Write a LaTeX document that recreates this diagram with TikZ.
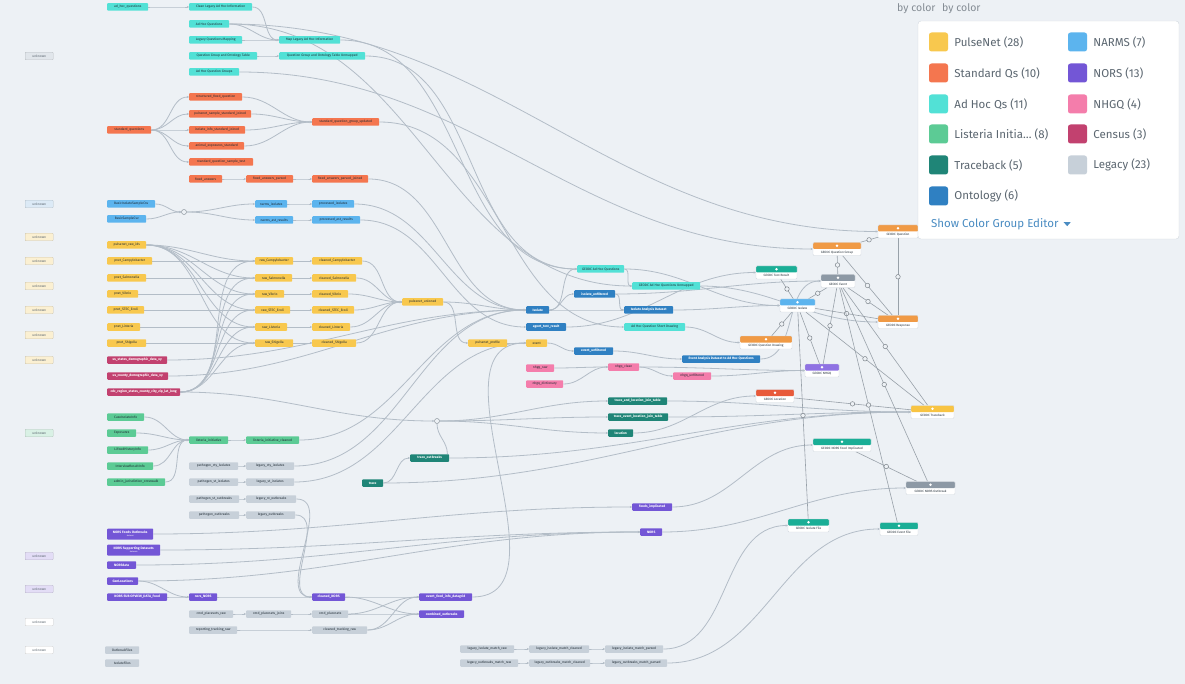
\documentclass[tikz,border=0pt]{standalone}
\usepackage{fontspec}
\setmainfont{Fira Sans}
\usetikzlibrary{arrows.meta,positioning}
\definecolor{bg}{HTML}{EDF1F5}
\definecolor{wire}{HTML}{B3BDC7}
\definecolor{ink}{HTML}{1E2A33}
\definecolor{pulse}{HTML}{F8C84E}
\definecolor{stdq}{HTML}{F4764F}
\definecolor{adhoc}{HTML}{52E1D6}
\definecolor{listi}{HTML}{5CCB95}
\definecolor{trace}{HTML}{1F8577}
\definecolor{onto}{HTML}{2F80C2}
\definecolor{narms}{HTML}{5CB4EE}
\definecolor{nors}{HTML}{7356D6}
\definecolor{nhgq}{HTML}{F47DAB}
\definecolor{census}{HTML}{C2416F}
\definecolor{legacy}{HTML}{C7D0D9}
\definecolor{geoorange}{HTML}{F09A45}
\definecolor{geogray}{HTML}{8D99A5}
\definecolor{geoteal}{HTML}{1AAE96}
\definecolor{geored}{HTML}{E85A3A}
\definecolor{geopurple}{HTML}{8F72E3}
\definecolor{geoyellow}{HTML}{F8C443}
\definecolor{geoline}{HTML}{D3D9DF}
\definecolor{legtxt}{HTML}{5B6670}
\definecolor{linkc}{HTML}{4A8CC2}
\definecolor{unkgray}{HTML}{E1E6EB}
\definecolor{unkblue}{HTML}{DCEAF6}
\definecolor{unkyellow}{HTML}{FBF0D2}
\definecolor{unkgreen}{HTML}{D9F1E5}
\definecolor{unkpurple}{HTML}{E3DDF6}
\definecolor{unkwhite}{HTML}{FFFFFF}
\newcommand{\nodefont}{\fontsize{3.3}{3.7}\selectfont}
\pgfdeclarelayer{back}
\pgfdeclarelayer{edges}
\pgfsetlayers{back,edges,main}

\begin{document}
\begin{tikzpicture}[x=1pt, y=-1pt,
  dset/.style={anchor=west, rounded corners=0.8pt, minimum height=7.5pt, inner sep=0pt, font=\nodefont, text=ink},
  dsetw/.style={dset, text=white, font=\nodefont\bfseries},
  unk/.style={dset, minimum width=28pt, fill=#1, draw=#1!82!black, line width=0.4pt, text=legtxt},
  junc/.style={circle, draw=wire!80!black, fill=bg, line width=0.5pt, inner sep=0pt, minimum size=5pt},
  flow/.style={draw=wire, line width=0.8pt, -{Stealth[length=2.2pt,width=2.2pt]}},
  rel/.style={draw=wire!85!black, line width=0.6pt},
  relmark/.style={circle, draw=wire!70!black, fill=bg, line width=0.5pt, inner sep=0pt, minimum size=4.5pt},
  geo/.style={rounded corners=1pt, fill=white, draw=geoline, line width=0.4pt, minimum height=13pt, inner sep=0pt},
  geolab/.style={font=\fontsize{3.1}{3.5}\selectfont, text=ink, inner sep=0pt},
  swatch/.style={rounded corners=2.5pt, minimum size=19pt, inner sep=0pt},
  legtext/.style={font=\fontsize{11.5}{13}\selectfont, text=legtxt, inner sep=0pt, anchor=west},
]
\useasboundingbox (0,0) rectangle (1185,684);
\begin{pgfonlayer}{back}
\fill[bg] (0,0) rectangle (1185,684);
\end{pgfonlayer}

% unknown sources, left margin
\foreach \y/\col in {56/unkgray, 204/unkblue, 237/unkyellow, 261/unkyellow, 286/unkyellow, 310/unkyellow, 335/unkyellow, 360/unkyellow, 433/unkgreen, 556/unkpurple, 589/unkpurple, 622/unkwhite, 650/unkwhite}
  \node[unk=\col] (unk\y) at (25,\y) {unknown};

% ad hoc questions
\foreach \nm/\x/\y/\w/\txt in {ahq/107/7/41/ad\_hoc\_questions, ahopen/189/7/63/Clean Legacy Ad Hoc Information, ahqs/189/24/40/Ad Hoc Questions, ahlegmap/189/40/53/Legacy Questions Mapping, ahqgot/189/56/68/Question Group and Ontology Table, ahqg/189/72/50/Ad Hoc Question Groups, ahmap/279/40/61/Map Legacy Ad Hoc Information, ahunm/279/56/86/Question Group and Ontology Table Unmapped, ahgeo/577/269/47/GEODC Ad Hoc Questions, ahgeou/632/286/68/GEODC Ad Hoc Questions Unmapped, ahdraw/624/327/61/Ad Hoc Question Short Drawing}
  \node[dset, fill=adhoc, minimum width=\w] (\nm) at (\x,\y) {\txt};

% standard questions
\foreach \nm/\x/\y/\w/\txt in {sq/107/130/44/standard\_questions, sq1/189/97/53/structured\_fixed\_question, sq2/189/114/62/pulsenet\_sample\_standard\_joined, sq3/189/130/56/isolate\_info\_standard\_joined, sq4/189/146/55/animal\_exposures\_standard, sq5/189/162/64/standard\_question\_sample\_test, sq6/189/179/33/fixed\_answers, sq7/246/179/47/fixed\_answers\_parsed, sqg/312/122/67/standard\_question\_group\_updated, sq8/312/179/56/fixed\_answers\_parsed\_joined}
  \node[dset, fill=stdq, minimum width=\w] (\nm) at (\x,\y) {\txt};

% NARMS
\foreach \nm/\x/\y/\w/\txt in {na1/107/204/48/BasicIsolateSampleCsv, na2/107/219/39/BasicSampleCsv, na3/255/204/32/narms\_isolates, na4/255/220/38/narms\_ast\_results, na5/312/204/42/processed\_isolates, na6/312/220/48/processed\_ast\_results}
  \node[dset, fill=narms, minimum width=\w] (\nm) at (\x,\y) {\txt};
\node[junc] (j1) at (184,212) {};

% PulseNet
\node[dset, fill=pulse, minimum width=39] (pn0) at (107,245) {pulsenet\_raw\_ids};
\foreach \s/\g/\y/\wa/\wb/\wc in {C/Campylobacter/261/45/38/50, S/Salmonella/278/39/37/44, V/Vibrio/294/31/29/36, E/STEC\_Ecoli/310/37/35/42, L/Listeria/327/33/32/38, H/Shigella/343/39/38/44}{
  \node[dset, fill=pulse, minimum width=\wa] (pn\s) at (107,\y) {pnet\_\g};
  \node[dset, fill=pulse, minimum width=\wb] (rw\s) at (255,\y) {raw\_\g};
  \node[dset, fill=pulse, minimum width=\wc] (cl\s) at (312,\y) {cleaned\_\g};
}
\node[dset, fill=pulse, minimum width=41] (pnu) at (402,302) {pulsenet\_unioned};
\node[dset, fill=pulse, minimum width=39] (pnp) at (468,343) {pulsenet\_profile};
\node[dset, fill=pulse, minimum width=21] (ev) at (526,343) {event};

% census
\foreach \nm/\y/\w/\txt in {ce1/360/60/us\_states\_demographic\_data\_xy, ce2/376/61/us\_county\_demographic\_data\_xy, ce3/392/73/cdc\_region\_states\_county\_city\_zip\_lat\_long}
  \node[dsetw, fill=census, minimum width=\w] (\nm) at (107,\y) {\txt};

% listeria initiative
\foreach \nm/\x/\y/\w/\txt in {li1/107/417/37/CaseIsolateInfo, li2/107/433/29/Exposures, li3/107/450/41/LiFoodHistoryInfo, li4/107/466/46/InterviewResultInfo, li5/107/482/58/admin\_jurisdiction\_crosswalk, li6/189/440/39/listeria\_initiative, li7/246/440/53/listeria\_initiative\_cleaned}
  \node[dset, fill=listi, minimum width=\w] (\nm) at (\x,\y) {\txt};

% legacy
\foreach \nm/\x/\y/\w/\txt in {lg1/189/466/49/pathogen\_cty\_isolates, lg2/189/482/49/pathogen\_st\_isolates, lg3/189/499/50/pathogen\_st\_outbreaks, lg4/189/515/50/pathogen\_outbreaks, lg5/246/466/48/legacy\_cty\_isolates, lg6/246/482/48/legacy\_st\_isolates, lg7/246/499/50/legacy\_st\_outbreaks, lg8/246/515/49/legacy\_outbreaks, lg9/189/614/44/cmd\_placesets\_raw, lg10/189/630/48/reporting\_tracking\_raw, lg11/246/614/45/cmd\_placesets\_joins, lg12/312/614/36/cmd\_placesets, lg13/312/630/55/cleaned\_tracking\_raw, lg14/105/650/34/OutbreakFiles, lg15/105/663/34/IsolateFiles, lm1/460/649/54/legacy\_isolate\_match\_raw, lm2/529/649/60/legacy\_isolate\_match\_cleaned, lm3/605/649/58/legacy\_isolate\_match\_parsed, lm4/460/663/58/legacy\_outbreaks\_match\_raw, lm5/529/663/61/legacy\_outbreaks\_match\_cleaned, lm6/605/663/62/legacy\_outbreaks\_match\_parsed}
  \node[dset, fill=legacy, minimum width=\w] (\nm) at (\x,\y) {\txt};

% NORS
\node[dsetw, fill=nors, minimum width=46, minimum height=11, align=center] (no1) at (107,534) {NORS Foods Outbreaks\\[-0.6pt]{\fontsize{2}{2.2}\selectfont\mdseries dataset}};
\node[dsetw, fill=nors, minimum width=53, minimum height=11, align=center] (no2) at (107,550) {NORS Supporting Datasets\\[-0.6pt]{\fontsize{2}{2.2}\selectfont\mdseries datasets}};
\foreach \nm/\x/\y/\w/\txt in {no3/107/565/29/NORSdata, no4/107/581/31/GenLocations, no5/107/597/60/NORS SUB OPVIEW\_DATA\_Food, no6/189/597/28/nors\_NORS, no7/312/597/33/cleaned\_NORS, no8/419/597/53/event\_food\_info\_datagrid, no9/419/614/45/combined\_outbreaks, no10/632/507/40/foods\_implicated, no11/640/532/22/NORS}
  \node[dsetw, fill=nors, minimum width=\w] (\nm) at (\x,\y) {\txt};

% traceback
\foreach \nm/\x/\y/\w/\txt in {tr1/410/458/39/trace\_outbreaks, tr2/362/483/21/trace, tr3/608/401/59/trace\_and\_location\_join\_table, tr4/608/417/60/trace\_event\_location\_join\_table, tr5/608/433/25/location}
  \node[dsetw, fill=trace, minimum width=\w] (\nm) at (\x,\y) {\txt};
\node[junc] (j2) at (437,421) {};

% ontology
\foreach \nm/\x/\y/\w/\txt in {on1/526/310/23/Isolate, on2/526/327/40/agent\_test\_result, on3/574/294/41/isolate\_unfiltered, on4/624/310/49/Isolate Analysis Dataset, on5/574/351/39/event\_unfiltered, on6/682/359/78/Event Analysis Dataset to Ad Hoc Questions}
  \node[dsetw, fill=onto, minimum width=\w] (\nm) at (\x,\y) {\txt};

% NHGQ
\foreach \nm/\x/\y/\w/\txt in {nh1/526/368/28/nhgq\_raw, nh2/526/384/37/nhgq\_dictionary, nh3/608/367/31/nhgq\_clean, nh4/673/376/38/nhgq\_unfiltered}
  \node[dset, fill=nhgq, minimum width=\w] (\nm) at (\x,\y) {\txt};

% GEODC objects
\foreach \nm/\x/\y/\w/\col/\txt in {gq/898/231.5/40/geoorange/GEODC Question, gqg/837/249/48/geoorange/GEODC Question Group, gtr/776.5/272.5/41/geoteal/GEODC Test Result, gev/838/281/34/geogray/GEODC Event, giso/797.5/305.5/35/narms/GEODC Isolate, gresp/898/322/40/geoorange/GEODC Response, gqd/766/342.5/52/geoorange/GEODC Question Drawing, gnhgq/822/370.5/34/geopurple/GEODC NHGQ, gloc/775/396/38/geored/GEODC Location, gtb/932.5/412/43/geoyellow/GEODC Traceback, gnfi/842/445/58/geoteal/GEODC NORS Food Implicated, gno/930.5/488/49/geogray/GEODC NORS Outbreak, gif/808.5/525.5/41/geoteal/GEODC Isolate File, gef/899/529/38/geoteal/GEODC Event File}{
  \node[geo, minimum width=\w, path picture={\fill[\col] (path picture bounding box.north west) rectangle ([yshift=-6.5pt]path picture bounding box.north east);}] (\nm) at (\x,\y) {};
  \node[geolab] (\nm-lab) at ([yshift=-3.3pt]\nm.center) {\txt};
  \fill[white] ([yshift=3.2pt]\nm.center) circle (1.4pt);
}

% connectors, under the boxes
\begin{pgfonlayer}{edges}
\foreach \a/\b in {ahq/ahopen, ahopen/ahmap, ahqs/ahmap, ahlegmap/ahmap, ahqgot/ahunm, ahqs/ahgeou, ahmap/ahgeo, ahunm/ahgeo, ahgeo/ahgeou, ahqs/gq, ahqg/gqg,
  sq/sq1, sq/sq2, sq/sq3, sq/sq4, sq/sq5, sq1/sqg, sq2/sqg, sq3/sqg, sq4/sqg, sq6/sq7, sq7/sq8, sqg/ahdraw, sq8/on1,
  na1/j1, na2/j1, j1/na3, j1/na4, na3/na5, na4/na6, na5/on1, na6/on2,
  pnu/on1, pnu/pnp, pnp/ev, ce1/on1, ce2/on1, ce3/j2,
  li1/li6, li2/li6, li3/li6, li4/li6, li5/li6, li6/li7, li7/on1,
  lg1/lg5, lg2/lg6, lg3/lg7, lg4/lg8, lg5/on1, lg6/ev, lg7/no7, lg8/no7,
  no1/no10, no2/no11, no3/no11, no4/no11, no4/no6, no5/no6, no6/no7, no7/no8, no7/no9, lg9/lg11, lg11/lg12, lg12/no8, lg12/no9, lg10/lg13, lg13/no8, lg13/no9, no8/ev,
  lm1/lm2, lm2/lm3, lm4/lm5, lm5/lm6,
  tr2/tr1, j2/tr3, j2/tr4, j2/tr5,
  on1/on3, on1/on4, on1/ahgeo, on3/on4, ev/on5, on5/on6,
  nh1/nh3, nh2/nh3, nh3/nh4,
  ahgeo/giso, ahgeou/gresp, ahdraw/gqd, on2/gtr, on3/gev, on4/giso, on6/gev, nh3/gnhgq, nh4/gnhgq, tr5/gloc, tr3/gtb, tr4/gtb, tr1/gtb, tr2/gtb, no10/gnfi, no11/gno, lm3/gif, lm6/gef}
  \draw[flow] (\a.east) to[out=0,in=180] (\b.west);
\foreach \s in {C,S,V,E,L,H}{
  \draw[flow] (pn\s.east) -- (rw\s.west);
  \draw[flow] (rw\s.east) -- (cl\s.west);
  \draw[flow] (pn0.east) to[out=0,in=180] (rw\s.west);
  \draw[flow] (ce3.east) to[out=0,in=180] (rw\s.west);
  \draw[flow] (cl\s.east) to[out=0,in=180] (pnu.west);
}
\draw[draw=wire, line width=0.8pt] ([xshift=-2pt]tr1.north east) to[out=90,in=-90] (j2.south);
% links between the GEODC objects
\foreach \a/\b in {gqg/gq, gq/gresp, gqg/gev, gqg/gresp, gev/gresp, gtr/giso, gev/giso, giso/gresp, giso/gqd, giso/gnhgq, gev/gnhgq, gev/gtb, giso/gtb, gev/gno, gloc/gtb, giso/gif, gev/gef, gnfi/gno}
  \draw[rel] (\a) -- node[relmark] {} (\b);
\end{pgfonlayer}

% colour legend
\node[legtext, font=\fontsize{10.5}{12}\selectfont, text=legtxt!75] (bycolA) at (897,9) {by color};
\node[legtext, font=\fontsize{10.5}{12}\selectfont, text=legtxt!75] (bycolB) at (942,9) {by color};
\node[draw=geoline, fill=white, rounded corners=3pt, minimum width=261pt, minimum height=218pt, inner sep=0pt] (legend) at (1048.5,130) {};
\foreach \i/\col/\yy/\txt in {1/pulse/42/PulseNet (28), 2/stdq/73/Standard Qs (10), 3/adhoc/104/Ad Hoc Qs (11), 4/listi/134/Listeria Initia… (8), 5/trace/165/Traceback (5), 6/onto/196/Ontology (6)}{
  \node[swatch, fill=\col] (swa\i) at (938.5,\yy) {};
  \node[legtext, right=6pt of swa\i] {\txt};
}
\foreach \i/\col/\yy/\txt in {1/narms/42/NARMS (7), 2/nors/73/NORS (13), 3/nhgq/104/NHGQ (4), 4/census/134/Census (3), 5/legacy/165/Legacy (23)}{
  \node[swatch, fill=\col] (swb\i) at (1077.5,\yy) {};
  \node[legtext, right=6pt of swb\i] {\txt};
}
\node[legtext, text=linkc] (editor) at (931,224) {Show Color Group Editor};
\fill[linkc] ([xshift=5pt,yshift=1.8pt]editor.east) -- ++(7,0) -- ++(-3.5,4) -- cycle;
\end{tikzpicture}
\end{document}
